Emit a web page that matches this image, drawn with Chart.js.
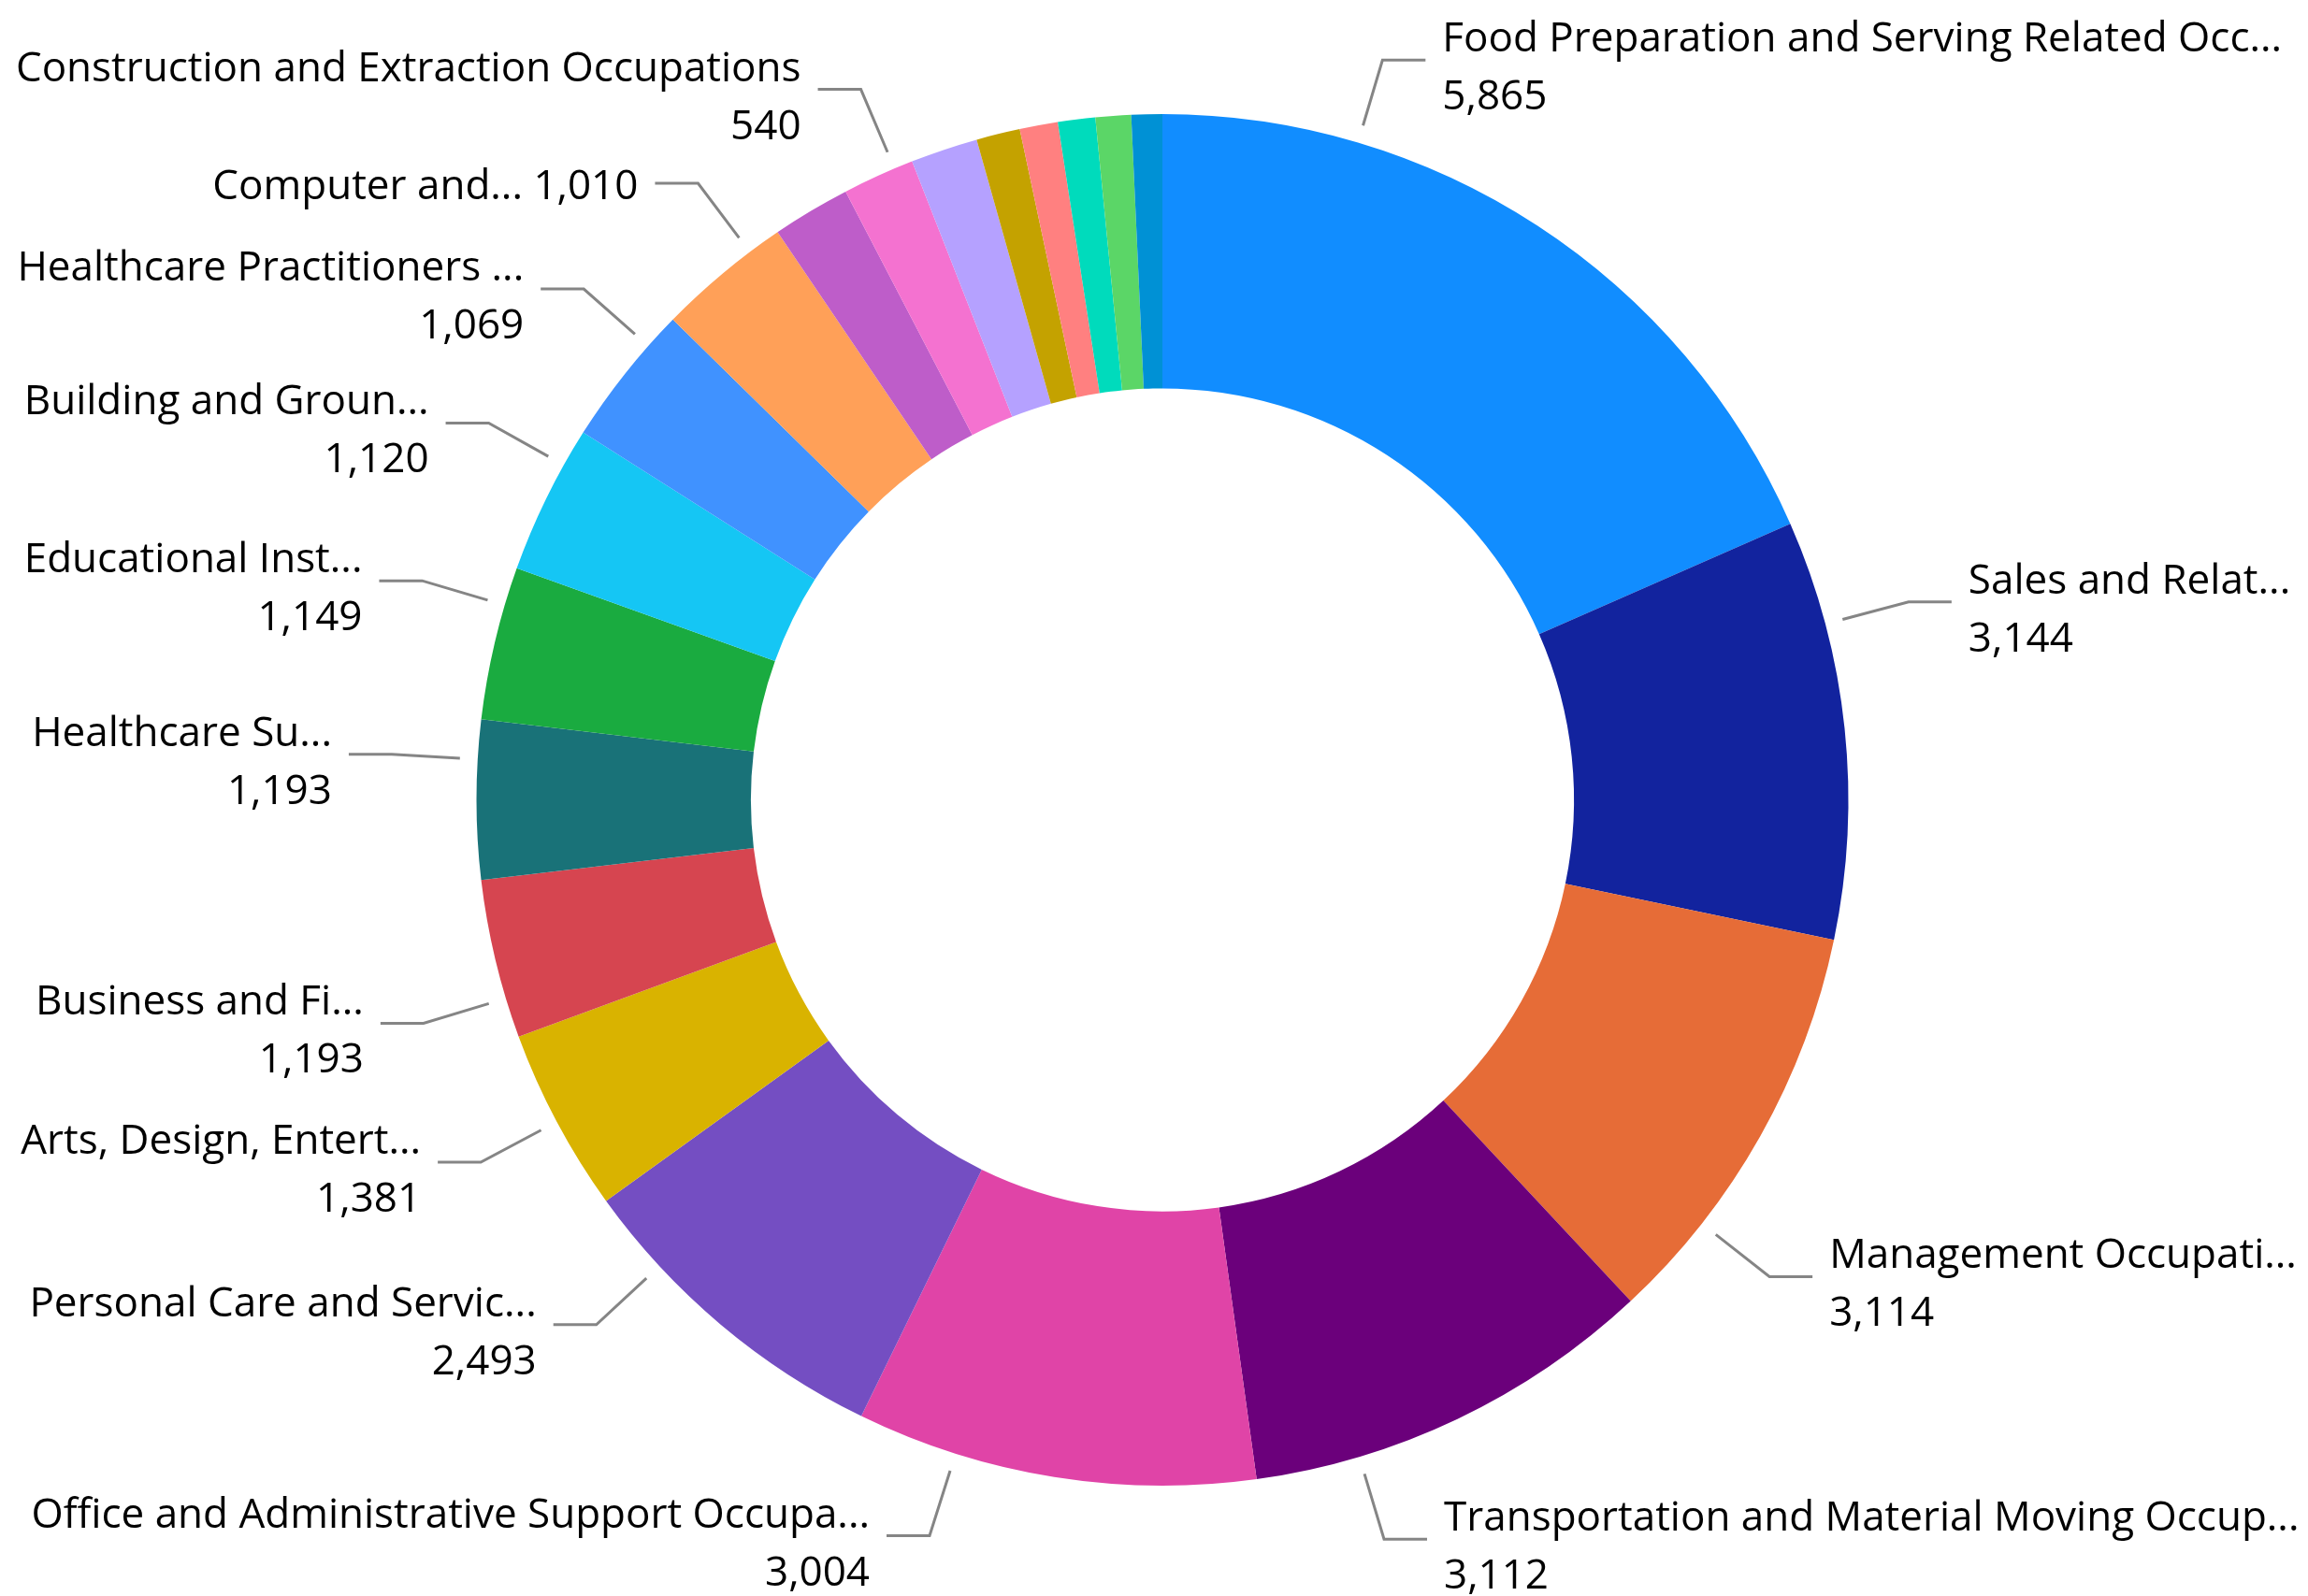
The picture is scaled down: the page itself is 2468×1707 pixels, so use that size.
<!DOCTYPE html>
<html>
<head>
<meta charset="utf-8">
<title>Occupations donut</title>
<script src="https://cdn.jsdelivr.net/npm/chart.js@4.4.1/dist/chart.umd.min.js"></script>
<style>
    html, body { margin: 0; padding: 0; background: #fff; }
    #wrap { width: 2468px; height: 1707px; position: relative; }
</style>
</head>
<body>
<div id="wrap"><canvas id="chart"></canvas></div>
<script>
// data (labels as shown, truncated the same way)
const categories = [
    'Food Preparation and Serving Related Occ...',
    'Sales and Relat...',
    'Management Occupati...',
    'Transportation and Material Moving Occup...',
    'Office and Administrative Support Occupa...',
    'Personal Care and Servic...',
    'Arts, Design, Entert...',
    'Business and Fi...',
    'Healthcare Su...',
    'Educational Inst...',
    'Building and Groun...',
    'Healthcare Practitioners ...',
    'Computer and...',
    'Protective Service Occupations',
    'Construction and Extraction Occupations',
    'Installation, Maintenance, and Repair Occupations',
    'Production Occupations',
    'Community and Social Service Occupations',
    'Architecture and Engineering Occupations',
    'Life, Physical, and Social Science Occupations',
    'Legal Occupations'
];
const values = [5865, 3144, 3114, 3112, 3004, 2493, 1381, 1193, 1193, 1149, 1120, 1069, 1010, 586, 540, 504, 328, 286, 280, 266, 231];

const colors = [
    '#118DFF', '#12239E', '#E66C37', '#6B007B', '#E044A7', '#744EC2', '#D9B300',
    '#D64550', '#197278', '#1AAB40', '#15C6F4', '#4092FF', '#FFA058', '#BE5DC9',
    '#F472D0', '#B5A1FF', '#C4A200', '#FF8080', '#00DBBC', '#5BD667', '#0091D5'
];

// callout settings: which slices get a label, one-line or two-line, and where along the slice the leader starts
const labelShown  = [1,1,1,1,1,1,1,1,1,1,1,1,1,0,1,0,0,0,0,0,0];
const labelInline = [0,0,0,0,0,0,0,0,0,0,0,0,1,0,0,0,0,0,0,0,0];
const labelAnchor = [0.25,0.25,0.75,0.75,0.75,0.75,0.5,0.25,0.75,0.75,0.75,0.75,0.75,0.5,0.74,0.5,0.5,0.5,0.5,0.5,0.5];

const labelFont = '44px "Open Sans", "Noto Sans", sans-serif';

const calloutLabels = {
    id: 'calloutLabels',
    afterDatasetsDraw(chart) {
        const ctx = chart.ctx;
        const meta = chart.getDatasetMeta(0);
        ctx.save();
        ctx.font = labelFont;
        meta.data.forEach((arc, i) => {
            if (!labelShown[i]) return;
            const p = arc.getProps(['x', 'y', 'startAngle', 'endAngle', 'outerRadius'], true);
            const a = p.startAngle + (p.endAngle - p.startAngle) * labelAnchor[i];
            const cos = Math.cos(a), sin = Math.sin(a);
            const x1 = p.x + cos * (p.outerRadius + 19);
            const y1 = p.y + sin * (p.outerRadius + 19);
            const x2 = p.x + cos * (p.outerRadius + 92);
            const y2 = p.y + sin * (p.outerRadius + 92);
            const dir = cos >= 0 ? 1 : -1;
            const x3 = x2 + dir * 46;

            ctx.strokeStyle = '#858585';
            ctx.lineWidth = 3;
            ctx.beginPath();
            ctx.moveTo(x1, y1);
            ctx.lineTo(x2, y2);
            ctx.lineTo(x3, y2);
            ctx.stroke();

            const tx = x3 + dir * 18;
            const val = values[i].toLocaleString('en-US');
            ctx.fillStyle = '#000';
            ctx.textAlign = dir > 0 ? 'left' : 'right';
            if (labelInline[i]) {
                ctx.textBaseline = 'middle';
                ctx.fillText(categories[i] + ' ' + val, tx, y2 + 4);
            } else {
                ctx.textBaseline = 'alphabetic';
                ctx.fillText(categories[i], tx, y2 - 9);
                ctx.fillText(val, tx, y2 + 53);
            }
        });
        ctx.restore();
    }
};

new Chart(document.getElementById('chart'), {
    type: 'doughnut',
    data: {
        labels: categories,
        datasets: [{
            data: values,
            backgroundColor: colors,
            borderWidth: 0,
            hoverOffset: 0
        }]
    },
    options: {
        responsive: true,
        maintainAspectRatio: false,
        animation: false,
        cutout: '60%',
        layout: { padding: { top: 122, bottom: 118, left: 18, right: 0 } },
        plugins: {
            legend: { display: false },
            tooltip: { enabled: false }
        }
    },
    plugins: [calloutLabels]
});
</script>
</body>
</html>
